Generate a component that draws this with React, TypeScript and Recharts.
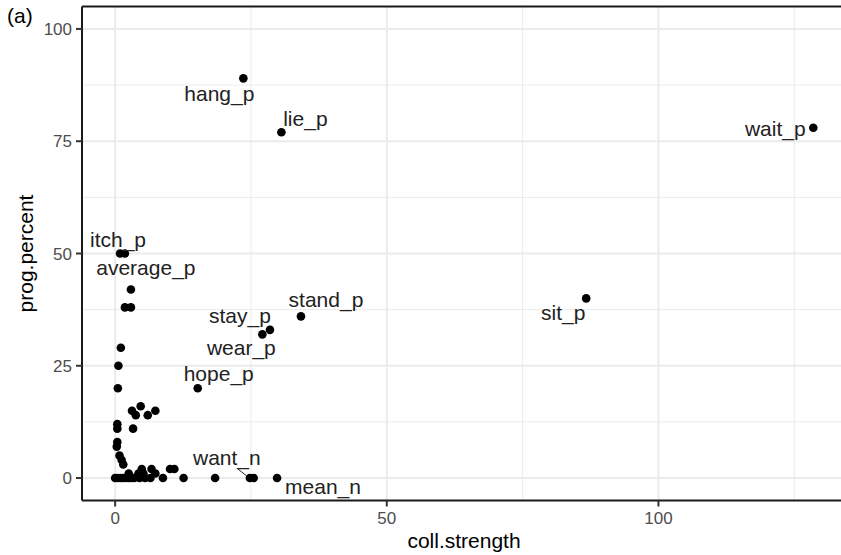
import { ScatterChart, Scatter, XAxis, YAxis, ReferenceLine } from 'recharts'

// points that carry a word label (ggrepel-style)
const labelNames = ['hang_p', 'lie_p', 'wait_p', 'itch_p', 'average_p', 'stay_p', 'wear_p', 'stand_p', 'hope_p', 'sit_p', 'want_n', 'mean_n']
const labelStrength = [23.6, 30.6, 128.5, 0.9, 2.9, 28.5, 27.1, 34.2, 15.2, 86.7, 24.8, 29.8]
const labelPercent = [89, 77, 78, 50, 42, 33, 32, 36, 20, 40, 0, 0]

// unlabelled points
const otherStrength = [
  1.8, 1.8, 2.9, 1.05, 0.6, 0.5, 3.1, 4.7, 3.8, 6.0, 7.4, 0.4, 0.4, 3.3, 0.4, 0.3,
  0.8, 1.2, 1.5, 2.5, 4.3, 5.2, 6.7, 7.4, 10.1, 10.9, 4.9, 0, 0.5, 1, 1.5, 2, 2.5,
  3, 3.5, 4.5, 5.5, 6.5, 8.8, 12.6, 18.4, 25.5,
]
const otherPercent = [
  50, 38, 38, 29, 25, 20, 15, 16, 14, 14, 15, 12, 11, 11, 8, 7,
  5, 4, 3, 1, 1, 1, 2, 1, 2, 2, 2, 0, 0, 0, 0, 0, 0,
  0, 0, 0, 0, 0, 0, 0, 0, 0,
]

const xTicks = [0, 50, 100]
const yTicks = [0, 25, 50, 75, 100]
const xMinor = [25, 75, 125]
const yMinor = [12.5, 37.5, 62.5, 87.5]

const labelled = labelNames.map((name, i) => ({ name, x: labelStrength[i], y: labelPercent[i] }))
const others = otherStrength.map((x, i) => ({ x, y: otherPercent[i] }))

// label text centre / baseline relative to the point, in px
const labelOffset: Record<string, [number, number]> = {
  hang_p: [-24, 23],
  lie_p: [24, -6],
  wait_p: [-38, 8],
  itch_p: [-2, -7],
  average_p: [15, -14],
  stay_p: [-30, -7],
  wear_p: [-21, 21],
  stand_p: [25, -9],
  hope_p: [21, -7],
  sit_p: [-23, 22],
  want_n: [-23, -13],
  mean_n: [46, 16],
}

const FONT = '"Liberation Sans", Arial, sans-serif'
const GRID = '#ebebeb'

const Dot = (props: any) => <circle cx={props.cx} cy={props.cy} r={4.3} fill="#000" />

const LabelledDot = (props: any) => {
  const { cx, cy, payload } = props
  const [dx, dy] = labelOffset[payload.name] ?? [0, -10]
  return (
    <g>
      <circle cx={cx} cy={cy} r={4.3} fill="#000" />
      {payload.name === 'want_n' && (
        <line x1={cx - 12} y1={cy - 9} x2={cx - 3} y2={cy - 2} stroke="#222" strokeWidth={1} />
      )}
      <text x={cx + dx} y={cy + dy} textAnchor="middle" fontSize={21} fill="#222" fontFamily={FONT}>
        {payload.name}
      </text>
    </g>
  )
}

const XTitle = (props: any) => {
  const vb = props.viewBox
  return (
    <text x={vb.x + vb.width / 2 + 2.5} y={vb.y + 47.5} textAnchor="middle" fontSize={21} fill="#000" fontFamily={FONT}>
      coll.strength
    </text>
  )
}

const YTitle = (props: any) => {
  const vb = props.viewBox
  const cx = 33
  const cy = vb.y + vb.height / 2
  return (
    <text x={cx} y={cy} transform={`rotate(-90, ${cx}, ${cy})`} textAnchor="middle" fontSize={21} fill="#000" fontFamily={FONT}>
      prog.percent
    </text>
  )
}

export default function App() {
  return (
    <div style={{ position: 'absolute', left: 0, top: 0, width: 841, height: 555, background: '#fff' }}>
      <div style={{ position: 'absolute', left: 7, top: 4, fontSize: 21, fontFamily: FONT, color: '#000' }}>(a)</div>
      <ScatterChart width={841} height={555} margin={{ top: 6.5, right: 0, bottom: 0, left: 0 }}>
        {xMinor.map((v) => (
          <ReferenceLine key={'xm' + v} x={v} stroke={GRID} strokeWidth={1} />
        ))}
        {yMinor.map((v) => (
          <ReferenceLine key={'ym' + v} y={v} stroke={GRID} strokeWidth={1} />
        ))}
        {xTicks.map((v) => (
          <ReferenceLine key={'x' + v} x={v} stroke={GRID} strokeWidth={2} />
        ))}
        {yTicks.map((v) => (
          <ReferenceLine key={'y' + v} y={v} stroke={GRID} strokeWidth={2} />
        ))}
        <ReferenceLine y={105} stroke="#1a1a1a" strokeWidth={2} />
        <XAxis
          type="number"
          dataKey="x"
          domain={[-6.1, 133.6]}
          allowDataOverflow
          ticks={xTicks}
          height={54.5}
          tickSize={6}
          tickMargin={5}
          tickLine={{ stroke: '#333', strokeWidth: 2 }}
          axisLine={{ stroke: '#1a1a1a', strokeWidth: 2 }}
          tick={{ fill: '#4d4d4d', fontSize: 17, fontFamily: FONT }}
          label={{ content: XTitle }}
        />
        <YAxis
          type="number"
          dataKey="y"
          domain={[-5, 105]}
          allowDataOverflow
          ticks={yTicks}
          width={82}
          tickSize={6}
          tickMargin={4}
          tickLine={{ stroke: '#333', strokeWidth: 2 }}
          axisLine={{ stroke: '#1a1a1a', strokeWidth: 2 }}
          tick={{ fill: '#4d4d4d', fontSize: 17, fontFamily: FONT }}
          label={{ content: YTitle }}
        />
        <Scatter data={others} shape={Dot} isAnimationActive={false} />
        <Scatter data={labelled} shape={LabelledDot} isAnimationActive={false} />
      </ScatterChart>
    </div>
  )
}
